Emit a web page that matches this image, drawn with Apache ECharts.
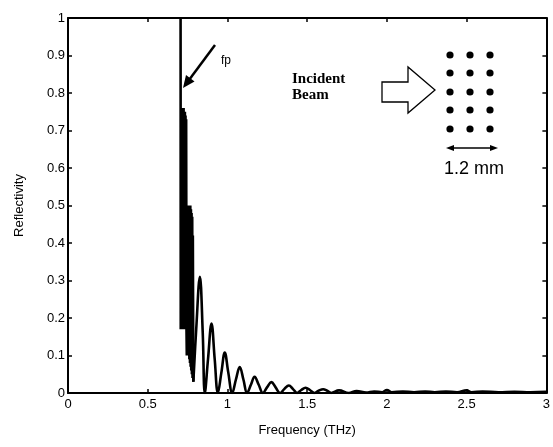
<!DOCTYPE html>
<html>
<head>
<meta charset="utf-8">
<script src="https://cdn.jsdelivr.net/npm/echarts@6/dist/echarts.min.js"></script>
<style>html,body{margin:0;padding:0;background:#fff}#c{width:553px;height:447px}</style>
</head>
<body>
<div id="c"></div>
<script>
// Frequency ticks and reflectivity ticks
var xTicks = [0, 0.5, 1, 1.5, 2, 2.5, 3];
var yTicks = [0, 0.1, 0.2, 0.3, 0.4, 0.5, 0.6, 0.7, 0.8, 0.9, 1];

// Dense oscillation region just above the plasma frequency fp
var freqDense = [0.706, 0.707, 0.709, 0.711, 0.713, 0.715, 0.717, 0.719, 0.721, 0.723, 0.725, 0.727, 0.729, 0.731, 0.733, 0.735, 0.737, 0.739, 0.741, 0.743, 0.745, 0.747, 0.749, 0.751, 0.753, 0.755, 0.757, 0.759, 0.761, 0.763, 0.765, 0.767, 0.769, 0.771, 0.773, 0.775, 0.777, 0.779, 0.781, 0.783, 0.786];
var reflDense = [1.0, 0.17, 0.76, 0.18, 0.76, 0.17, 0.76, 0.19, 0.75, 0.17, 0.76, 0.18, 0.74, 0.17, 0.75, 0.18, 0.74, 0.17, 0.73, 0.17, 0.10, 0.50, 0.16, 0.50, 0.12, 0.50, 0.10, 0.50, 0.09, 0.49, 0.08, 0.50, 0.07, 0.49, 0.06, 0.48, 0.05, 0.47, 0.04, 0.42, 0.03];

// Damped fringes
var freqDamped = [0.786, 0.804, 0.827, 0.845, 0.858, 0.878, 0.900, 0.920, 0.940, 0.962, 0.983, 1.005, 1.030, 1.053, 1.077, 1.100, 1.123, 1.147, 1.170, 1.196, 1.222, 1.248, 1.275, 1.302, 1.330, 1.357, 1.385, 1.410, 1.437, 1.463, 1.490, 1.517, 1.545, 1.572, 1.600, 1.625, 1.650, 1.700, 1.760, 1.810, 1.870, 1.920, 1.970, 2.000, 2.030, 2.100, 2.170, 2.240, 2.300, 2.370, 2.440, 2.500, 2.530, 2.600, 2.700, 2.800, 2.900, 3.000];
var reflDamped = [0.03, 0.17, 0.31, 0.16, 0.0, 0.09, 0.185, 0.09, 0.0, 0.055, 0.108, 0.055, 0.0, 0.036, 0.069, 0.036, 0.0, 0.022, 0.043, 0.022, 0.0, 0.015, 0.029, 0.015, 0.0, 0.011, 0.020, 0.011, 0.0, 0.008, 0.014, 0.008, 0.0, 0.006, 0.010, 0.006, 0.0, 0.007, 0.0, 0.005, 0.001, 0.004, 0.002, 0.008, 0.002, 0.004, 0.002, 0.004, 0.002, 0.004, 0.002, 0.007, 0.002, 0.004, 0.002, 0.003, 0.002, 0.003];

function zip(a, b) { return a.map(function (v, i) { return [v, b[i]]; }); }

var chart = echarts.init(document.getElementById('c'), null, {renderer: 'canvas'});
var FONT = 'Liberation Sans, Arial, sans-serif';

var baseAxis = {
  type: 'value',
  axisLine: {show: true, onZero: false, lineStyle: {color: '#000', width: 2}},
  axisTick: {show: true, inside: true, length: 4, lineStyle: {color: '#000', width: 1.5}},
  splitLine: {show: false}
};

chart.setOption({
  animation: false,
  backgroundColor: '#fff',
  grid: {left: 68, right: 6, top: 18, bottom: 54},
  xAxis: [
    Object.assign({}, baseAxis, {
      min: xTicks[0], max: xTicks[xTicks.length - 1], interval: 0.5, position: 'bottom',
      axisLabel: {color: '#000', fontSize: 13, fontFamily: FONT, margin: 5},
      name: 'Frequency (THz)', nameLocation: 'middle', nameGap: 31,
      nameTextStyle: {color: '#000', fontSize: 13, fontFamily: FONT}
    }),
    Object.assign({}, baseAxis, {
      min: xTicks[0], max: xTicks[xTicks.length - 1], interval: 0.5, position: 'top',
      axisLabel: {show: false}
    })
  ],
  yAxis: [
    Object.assign({}, baseAxis, {
      min: yTicks[0], max: yTicks[yTicks.length - 1], interval: 0.1, position: 'left',
      axisLabel: {color: '#000', fontSize: 13, fontFamily: FONT, margin: 3},
      name: 'Reflectivity', nameLocation: 'middle', nameGap: 42, nameRotate: 90,
      nameTextStyle: {color: '#000', fontSize: 13, fontFamily: FONT}
    }),
    Object.assign({}, baseAxis, {
      min: yTicks[0], max: yTicks[yTicks.length - 1], interval: 0.1, position: 'right',
      axisLabel: {show: false}
    })
  ],
  series: [
    {
      type: 'line', data: zip(freqDense, reflDense), showSymbol: false, symbol: 'none',
      lineStyle: {color: '#000', width: 2.6}, clip: true
    },
    {
      type: 'line', data: zip(freqDamped, reflDamped), showSymbol: false, symbol: 'none', smooth: 0.4,
      lineStyle: {color: '#000', width: 2.6}, clip: true
    }
  ],
  graphic: [
    // fp arrow
    {type: 'line', shape: {x1: 215, y1: 45, x2: 189, y2: 80}, style: {stroke: '#000', lineWidth: 2.5}},
    {type: 'polygon', shape: {points: [[183, 88], [194.5, 81.5], [186, 75]]}, style: {fill: '#000'}},
    {type: 'text', left: 221, top: 55, style: {text: 'fp', fill: '#000', font: '12px ' + FONT}},
    // Incident beam label
    {type: 'text', left: 292, top: 71, style: {text: 'Incident\nBeam', fill: '#000', font: 'bold 15px "Liberation Serif", "Times New Roman", serif', lineHeight: 16}},
    // block arrow
    {type: 'polygon', shape: {points: [[382, 82], [408, 82], [408, 67], [435, 90], [408, 113], [408, 102], [382, 102]]}, style: {fill: '#fff', stroke: '#000', lineWidth: 1.3}},
    // dot array
    {type: 'group', children: [
      [450,55],[470,55],[490,55],[450,73],[470,73],[490,73],[450,92],[470,92],[490,92],[450,110],[470,110],[490,110],[450,129],[470,129],[490,129]
    ].map(function (p) { return {type: 'circle', shape: {cx: p[0], cy: p[1], r: 3.6}, style: {fill: '#000'}}; })},
    // double arrow
    {type: 'line', shape: {x1: 451, y1: 148, x2: 493, y2: 148}, style: {stroke: '#000', lineWidth: 1.3}},
    {type: 'polygon', shape: {points: [[446, 148], [454, 145], [454, 151]]}, style: {fill: '#000'}},
    {type: 'polygon', shape: {points: [[498, 148], [490, 145], [490, 151]]}, style: {fill: '#000'}},
    {type: 'text', left: 444, top: 160, style: {text: '1.2 mm', fill: '#000', font: '18px ' + FONT}}
  ]
});
</script>
</body>
</html>
